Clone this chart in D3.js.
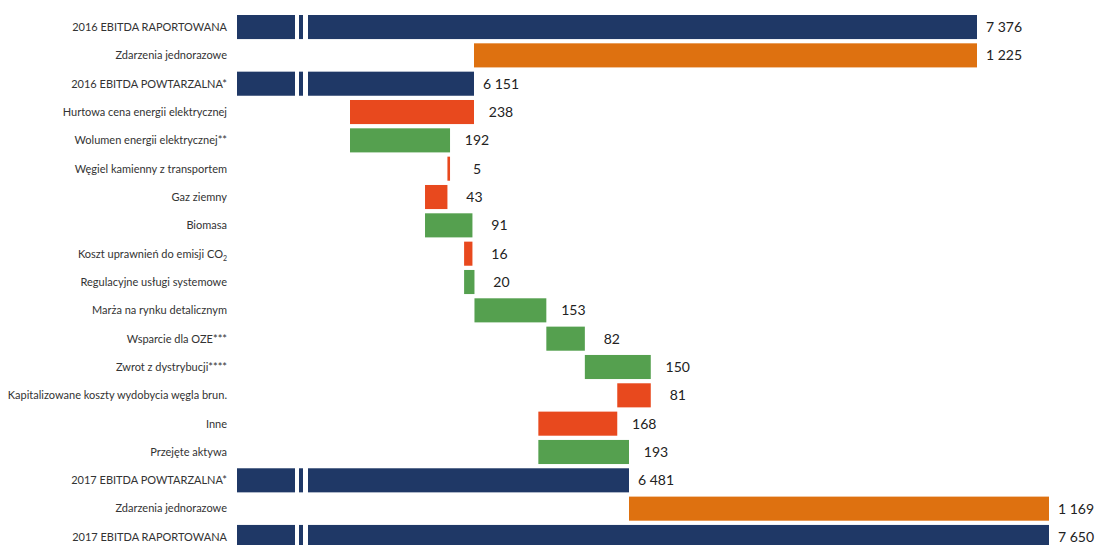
<!DOCTYPE html>
<html>
<head>
<meta charset="utf-8">
<script src="https://cdn.jsdelivr.net/npm/d3@7"></script>
<style>
  body { margin: 0; background: #fff; }
  svg { display: block; font-family: Lato, "Open Sans", sans-serif; }
</style>
</head>
<body>
<div id="chart"></div>
<script>
// row labels, top to bottom
const categories = [
    '2016 EBITDA RAPORTOWANA',
    'Zdarzenia jednorazowe',
    '2016 EBITDA POWTARZALNA*',
    'Hurtowa cena energii elektrycznej',
    'Wolumen energii elektrycznej**',
    'Węgiel kamienny z transportem',
    'Gaz ziemny',
    'Biomasa',
    'Koszt uprawnień do emisji CO2',
    'Regulacyjne usługi systemowe',
    'Marża na rynku detalicznym',
    'Wsparcie dla OZE***',
    'Zwrot z dystrybucji****',
    'Kapitalizowane koszty wydobycia węgla brun.',
    'Inne',
    'Przejęte aktywa',
    '2017 EBITDA POWTARZALNA*',
    'Zdarzenia jednorazowe',
    '2017 EBITDA RAPORTOWANA'
];
// total = full bar, oneoff = gap between neighbouring totals, up/down = waterfall step
const kinds = ['total', 'oneoff', 'total', 'down', 'up', 'down', 'down', 'up', 'down', 'up',
    'up', 'up', 'up', 'down', 'down', 'up', 'total', 'oneoff', 'total'];
const values = [7376, 1225, 6151, 238, 192, 5, 43, 91, 16, 20, 153, 82, 150, 81, 168, 193, 6481, 1169, 7650];

const colors = { total: '#1f3866', oneoff: '#de7110', up: '#55a04f', down: '#e8491e' };

const width = 1096, height = 545;
const labelRight = 227;
const barOrigin = 237;          // where the (broken) total bars begin
const breakGaps = [[295, 299], [303, 308]];

// build the waterfall spans
let level = 0;
const rows = categories.map((c, i) => ({ name: c, kind: kinds[i], value: values[i] }));
rows.forEach((r, i) => {
    if (r.kind === 'total') {
        level = r.value;
        r.from = null; r.to = r.value;
    } else if (r.kind === 'up' || r.kind === 'down') {
        const next = r.kind === 'up' ? level + r.value : level - r.value;
        r.from = level; r.to = next;
        level = next;
    }
});
rows.forEach((r, i) => {
    if (r.kind === 'oneoff') {
        const a = rows[i - 1].value, b = rows[i + 1].value;
        r.from = Math.min(a, b); r.to = Math.max(a, b);
    }
});

const totals = rows.filter(r => r.kind === 'total').map(r => r.value);
const lo = d3.min(rows.filter(r => r.from != null), r => Math.min(r.from, r.to));
// the original graphic is not drawn to a single scale: piecewise linear through the totals
const xDomain = [lo].concat(totals.slice().sort(d3.ascending));
const x = d3.scaleLinear()
    .domain(xDomain)
    .range([350, 474, 629, 977, 1049]);

const y = d3.scaleBand()
    .domain(d3.range(rows.length))
    .range([10.75, 10.75 + 28.33 * (rows.length + 0.15)])
    .padding(0.15);

const fmt = v => d3.format(',')(v).replace(/,/g, '\u00a0');

const svg = d3.select('#chart')
    .append('svg')
    .attr('width', width)
    .attr('height', height);

// bars
svg.append('g')
    .selectAll('rect')
    .data(rows)
    .join('rect')
    .attr('x', r => r.kind === 'total' ? barOrigin : x(Math.min(r.from, r.to)))
    .attr('y', (r, i) => y(i))
    .attr('width', r => r.kind === 'total'
        ? x(r.to) - barOrigin
        : Math.abs(x(r.to) - x(r.from)))
    .attr('height', y.bandwidth())
    .attr('fill', r => colors[r.kind]);

// axis break marks on total bars
const breaks = svg.append('g');
rows.forEach((r, i) => {
    if (r.kind !== 'total') return;
    breakGaps.forEach(([g0, g1]) => {
        breaks.append('rect')
            .attr('x', g0)
            .attr('y', y(i) - 1)
            .attr('width', g1 - g0)
            .attr('height', y.bandwidth() + 2)
            .attr('fill', '#fff');
    });
});

// category labels
const labels = svg.append('g')
    .selectAll('text')
    .data(rows)
    .join('text')
    .attr('x', labelRight)
    .attr('y', (r, i) => y(i) + y.bandwidth() / 2)
    .attr('dy', '0.35em')
    .attr('text-anchor', 'end')
    .attr('font-size', 11)
    .attr('fill', '#333');

labels.each(function (r) {
    const t = d3.select(this);
    if (r.name.endsWith('CO2')) {
        t.append('tspan').text(r.name.slice(0, -1));
        t.append('tspan')
            .attr('font-size', 7)
            .attr('dy', 3)
            .text('2');
    } else {
        t.text(r.name);
    }
});

// value labels
svg.append('g')
    .selectAll('text')
    .data(rows)
    .join('text')
    .attr('x', r => (r.kind === 'total' ? x(r.to) : x(Math.max(r.from, r.to))) + 27)
    .attr('y', (r, i) => y(i) + y.bandwidth() / 2)
    .attr('dy', '0.36em')
    .attr('text-anchor', 'middle')
    .attr('font-size', 14)
    .attr('fill', '#222')
    .text(r => fmt(r.value));
</script>
</body>
</html>
